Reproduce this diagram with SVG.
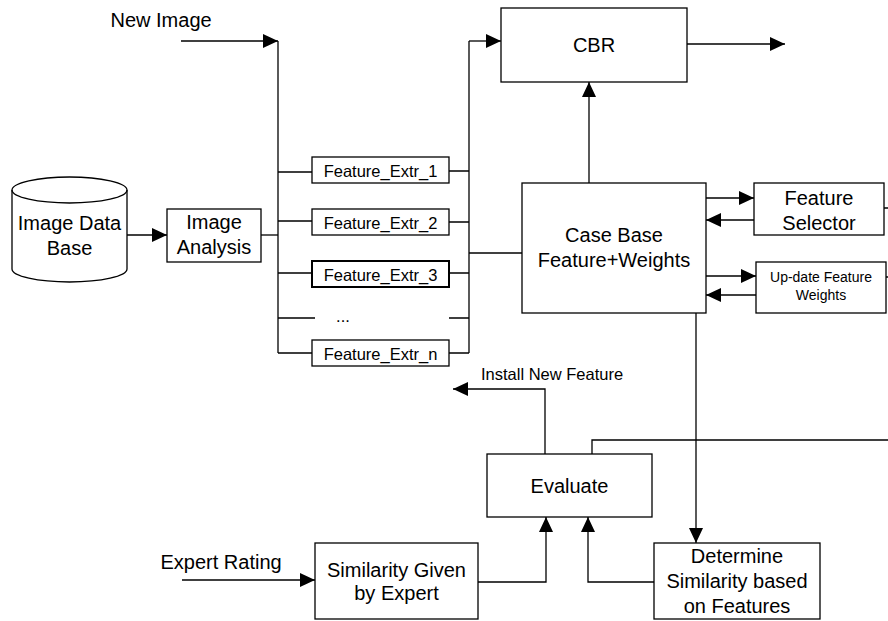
<svg xmlns="http://www.w3.org/2000/svg" width="888" height="621" viewBox="0 0 888 621">
<defs>
<marker id="ah" markerUnits="userSpaceOnUse" markerWidth="15" markerHeight="14" refX="15" refY="7" orient="auto" viewBox="0 0 15 14">
<path d="M0,0 L15,7 L0,14 z" fill="#000"/>
</marker>
<style>
.box{fill:#fff;stroke:#000;stroke-width:1.3}
.ln{fill:none;stroke:#000;stroke-width:1.3}
.arr{fill:none;stroke:#000;stroke-width:1.3;marker-end:url(#ah)}
text{font-family:"Liberation Sans",Arial,sans-serif;fill:#000}
.t20{font-size:20px;text-anchor:middle}
.t16{font-size:16.5px;text-anchor:middle}
.t14{font-size:14px;text-anchor:middle}
.l20{font-size:20px}
.l16{font-size:16.5px}
</style>
</defs>
<rect width="888" height="621" fill="#fff"/>
<g id="connectors">
<path class="arr" d="M181,41 H278"/>
<path class="ln" d="M278,41 V353"/>
<path class="ln" d="M278,172 H312 M278,221 H312 M278,273 H312 M278,318 H315 M278,353 H312"/>
<path class="arr" d="M127,235 H167"/>
<path class="ln" d="M261,235 H278"/>
<path class="ln" d="M449,171 H469 M449,222 H469 M449,273 H469 M449,318 H469 M449,353 H469"/>
<path class="ln" d="M469,41 V353"/>
<path class="ln" d="M469,253 H522"/>
<path class="arr" d="M469,41 H501"/>
<path class="arr" d="M687,44 H785"/>
<path class="arr" d="M589,183 V82"/>
<path class="arr" d="M706,198 H754"/>
<path class="arr" d="M754,220 H706"/>
<path class="arr" d="M706,276 H756"/>
<path class="arr" d="M756,295 H706"/>
<path class="ln" d="M884,208 H888 M886,277 H888"/>
<path class="arr" d="M696,313 V543"/>
<path class="arr" d="M545,454 V389 H453"/>
<path class="ln" d="M592,454 V440 H888"/>
<path class="arr" d="M182,580 H315"/>
<path class="arr" d="M478,582 H546 V517"/>
<path class="arr" d="M654,582 H588 V517"/>
</g>
<g id="labels">
<text class="l20" x="110.5" y="27">New Image</text>
<text class="l16" x="481" y="380">Install New Feature</text>
<text class="l20" x="160.5" y="569">Expert Rating</text>
</g>
<g id="image-db">
<path class="box" d="M12,190 A57.5,13 0 0 1 127,190 V269 A57.5,13 0 0 1 12,269 Z"/>
<path class="ln" d="M12,190 A57.5,13 0 0 0 127,190"/>
<text class="t20" x="69.5" y="230">Image Data</text>
<text class="t20" x="69.5" y="255">Base</text>
</g>
<g id="image-analysis">
<rect class="box" x="167" y="209" width="94" height="53"/>
<text class="t20" x="214" y="229">Image</text>
<text class="t20" x="214" y="254">Analysis</text>
</g>
<g id="fe1">
<rect class="box" x="312" y="157" width="137" height="26"/>
<text class="t16" x="380.5" y="176.5">Feature_Extr_1</text>
</g>
<g id="fe2">
<rect class="box" x="312" y="209" width="137" height="26"/>
<text class="t16" x="380.5" y="228.5">Feature_Extr_2</text>
</g>
<g id="fe3">
<rect class="box" x="312" y="261" width="137" height="26" style="stroke-width:2"/>
<text class="t16" x="380.5" y="280.5">Feature_Extr_3</text>
</g>
<g id="fe-dots">
<text class="t16" x="343" y="322">...</text>
</g>
<g id="fen">
<rect class="box" x="312" y="340" width="137" height="26"/>
<text class="t16" x="380.5" y="359.5">Feature_Extr_n</text>
</g>
<g id="cbr">
<rect class="box" x="501" y="8" width="186" height="74"/>
<text class="t20" x="594" y="52">CBR</text>
</g>
<g id="case-base">
<rect class="box" x="522" y="183" width="184" height="130"/>
<text class="t20" x="614" y="242">Case Base</text>
<text class="t20" x="614" y="267">Feature+Weights</text>
</g>
<g id="feature-selector">
<rect class="box" x="754" y="183" width="130" height="52"/>
<text class="t20" x="819" y="205">Feature</text>
<text class="t20" x="819" y="230">Selector</text>
</g>
<g id="update-weights">
<rect class="box" x="756" y="262" width="130" height="51"/>
<text class="t14" x="821" y="282">Up-date Feature</text>
<text class="t14" x="821" y="300">Weights</text>
</g>
<g id="evaluate">
<rect class="box" x="487" y="454" width="165" height="63"/>
<text class="t20" x="569.5" y="493">Evaluate</text>
</g>
<g id="similarity-expert">
<rect class="box" x="315" y="543" width="163" height="76"/>
<text class="t20" x="396.5" y="577">Similarity Given</text>
<text class="t20" x="396.5" y="600">by Expert</text>
</g>
<g id="determine-similarity">
<rect class="box" x="654" y="543" width="166" height="76"/>
<text class="t20" x="737" y="563">Determine</text>
<text class="t20" x="737" y="588">Similarity based</text>
<text class="t20" x="737" y="613">on Features</text>
</g>
</svg>
